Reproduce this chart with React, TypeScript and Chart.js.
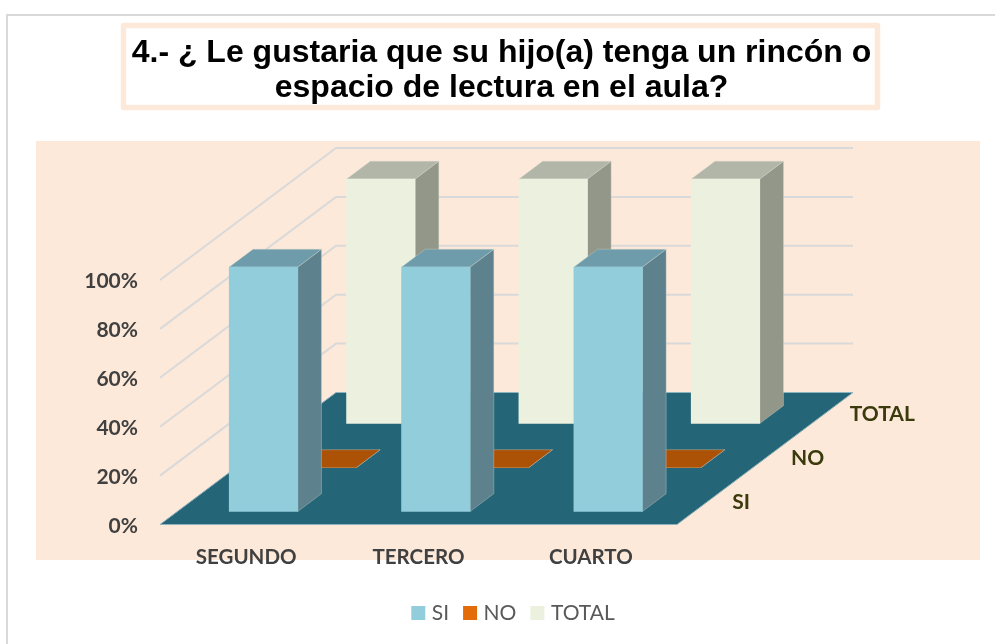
import React, { useEffect, useRef } from "react";
import { Chart, registerables } from "chart.js";

Chart.register(...registerables);

const categories = ["SEGUNDO", "TERCERO", "CUARTO"];
const seriesLabels = ["SI", "NO", "TOTAL"];
const siValues = [1, 1, 1];
const noValues = [0, 0, 0];
const totalValues = [1, 1, 1];
const titleLines = [
  "4.- ¿ Le gustaria que su hijo(a) tenga un rincón o",
  "espacio de lectura en el aula?",
];

const frontColors = ["#92CDDC", "#E36C09", "#EBF1DE"];
const topColors = ["#6F9CAA", "#AC5207", "#B2B6A8"];
const sideColors = ["#5E828D", "#8A4A0A", "#93978A"];

const PEACH = "#FDE9D9";
const FLOOR = "#246577";
const GRID = "#D9D9D9";
const DEPTH_X = 176;
const DEPTH_Y = -132;
const FRONT_GAP = 0.295;
const BAR_DEPTH = 0.405;

const poly = (ctx: any, pts: number[][], fill: string, stroke?: string) => {
  ctx.beginPath();
  pts.forEach((p, i) => (i ? ctx.lineTo(p[0], p[1]) : ctx.moveTo(p[0], p[1])));
  ctx.closePath();
  ctx.fillStyle = fill;
  ctx.fill();
  if (stroke) {
    ctx.strokeStyle = stroke;
    ctx.lineWidth = 1;
    ctx.stroke();
  }
};

const rowX = DEPTH_X / seriesLabels.length;
const rowY = DEPTH_Y / seriesLabels.length;

const scene3d = {
  id: "scene3d",
  afterLayout(chart: any) {
    const shift = (box: any, d: number) => {
      if (box) {
        box.left += d;
        box.right += d;
      }
    };
    shift(chart.titleBlock, 4);
    shift(chart.legend, 17.5);
  },
  beforeDraw(chart: any) {
    const { ctx, width, height } = chart;
    ctx.save();
    ctx.fillStyle = "#FFFFFF";
    ctx.fillRect(0, 0, width, height);
    ctx.fillStyle = "#D9D9D9";
    ctx.fillRect(6, 14, width - 6, 2);
    ctx.fillRect(6, 14, 2, height - 14);
    ctx.fillStyle = PEACH;
    ctx.fillRect(36, 141, 944, 419);
    ctx.strokeStyle = PEACH;
    ctx.lineWidth = 5.5;
    ctx.lineJoin = "round";
    ctx.strokeRect(123.5, 25.5, 754, 82);
    ctx.restore();
  },
  beforeDatasetsDraw(chart: any) {
    const { ctx, scales } = chart;
    const { x, y } = scales;
    const left = x.left;
    const right = x.right;
    const bottom = y.getPixelForValue(0);
    ctx.save();
    ctx.strokeStyle = GRID;
    ctx.lineWidth = 2;
    y.ticks.forEach((t: any) => {
      if (t.value <= 0) return;
      const py = y.getPixelForValue(t.value);
      ctx.beginPath();
      ctx.moveTo(left, py);
      ctx.lineTo(left + DEPTH_X, py + DEPTH_Y);
      ctx.lineTo(right + DEPTH_X, py + DEPTH_Y);
      ctx.stroke();
    });
    poly(
      ctx,
      [
        [left, bottom],
        [right, bottom],
        [right + DEPTH_X, bottom + DEPTH_Y],
        [left + DEPTH_X, bottom + DEPTH_Y],
      ],
      FLOOR,
      "#8FB3BD"
    );
    ctx.font = "bold 21px Lato";
    ctx.fillStyle = "#3A3A0C";
    ctx.textAlign = "left";
    ctx.textBaseline = "middle";
    seriesLabels.forEach((label, i) => {
      ctx.fillText(
        label,
        right + (i + 0.5) * rowX + 26,
        bottom + (i + 0.5) * rowY
      );
    });
    ctx.restore();
  },
  beforeDatasetDraw(chart: any, args: any) {
    const { ctx } = chart;
    const i = args.index;
    const dx = (i + FRONT_GAP) * rowX;
    const dy = (i + FRONT_GAP) * rowY;
    const sx = BAR_DEPTH * rowX;
    const sy = BAR_DEPTH * rowY;
    ctx.save();
    ctx.translate(dx, dy);
    args.meta.data.forEach((el: any) => {
      const { x, y, base, width } = el.getProps(["x", "y", "base", "width"], true);
      const l = x - width / 2;
      const r = x + width / 2;
      poly(
        ctx,
        [
          [r, y],
          [r + sx, y + sy],
          [r + sx, base + sy],
          [r, base],
        ],
        sideColors[i],
        "rgba(210,215,205,0.35)"
      );
      poly(
        ctx,
        [
          [l, y],
          [r, y],
          [r + sx, y + sy],
          [l + sx, y + sy],
        ],
        topColors[i],
        "rgba(210,215,205,0.35)"
      );
    });
  },
  afterDatasetDraw(chart: any) {
    chart.ctx.restore();
  },
};

export default function App() {
  const ref = useRef<HTMLCanvasElement>(null);

  useEffect(() => {
    const values = [siValues, noValues, totalValues];
    const chart = new Chart(ref.current as any, {
      type: "bar",
      data: {
        labels: categories,
        datasets: seriesLabels.map((label, i) => ({
          label,
          data: values[i],
          backgroundColor: frontColors[i],
          borderWidth: 0,
          barThickness: 68.5,
          grouped: false,
          clip: false,
        })),
      } as any,
      plugins: [scene3d],
      options: {
        responsive: false,
        animation: false,
        events: [],
        layout: { padding: { bottom: 10.5 } },
        scales: {
          x: {
            type: "category",
            grid: { display: false, drawTicks: false },
            border: { display: false },
            ticks: {
              color: "#404040",
              font: { family: "Lato", size: 20.5, weight: "bold" },
              padding: 21,
              maxRotation: 0,
              autoSkip: false,
            },
            afterFit(scale: any) {
              scale.height = 60;
            },
          },
          y: {
            type: "linear",
            min: 0,
            max: 1,
            grid: { display: false, drawTicks: false },
            border: { display: false },
            ticks: {
              stepSize: 0.2,
              color: "#404040",
              font: { family: "Lato", size: 21, weight: "bold" },
              padding: 22,
              labelOffset: 1.5,
              callback: (v: any) => `${Math.round(Number(v) * 100)}%`,
            },
            afterFit(scale: any) {
              scale.width = 160;
            },
          },
          depth: {
            type: "category",
            axis: "y",
            position: "right",
            labels: seriesLabels,
            grid: { display: false, drawTicks: false },
            border: { display: false },
            ticks: { display: false },
            afterFit(scale: any) {
              scale.width = 318;
            },
          },
        },
        plugins: {
          title: {
            display: true,
            text: titleLines,
            color: "#000000",
            font: {
              family: "'Liberation Sans', Arial, sans-serif",
              size: 32,
              weight: "bold",
              lineHeight: 35 / 32,
            },
            padding: { top: 36, bottom: 174 },
          },
          legend: {
            display: true,
            position: "bottom",
            labels: {
              usePointStyle: true,
              pointStyle: "rect",
              boxWidth: 6,
              boxHeight: 14,
              padding: 18,
              color: "#595959",
              font: { family: "Lato", size: 21 },
            },
          },
          tooltip: { enabled: false },
        },
      } as any,
    });
    return () => chart.destroy();
  }, []);

  return (
    <canvas
      ref={ref}
      width={995}
      height={644}
      style={{ position: "absolute", left: 0, top: 0, display: "block" }}
    />
  );
}
